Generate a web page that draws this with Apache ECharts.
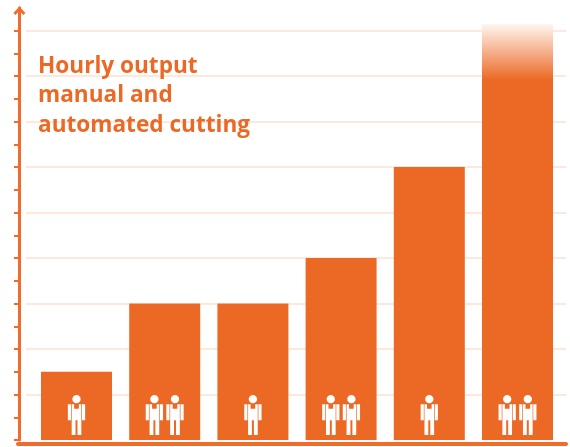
<!DOCTYPE html>
<html>
<head>
<meta charset="utf-8">
<style>html,body{margin:0;padding:0;background:#fff}#c{width:570px;height:447px}</style>
<script src="https://cdn.jsdelivr.net/npm/echarts@6/dist/echarts.min.js"></script>
</head>
<body>
<div id="c"></div>
<script>
const categories = ['A', 'B', 'C', 'D', 'E', 'F'];
const output = [3, 6, 6, 8, 12, 18.3];
const workers = [1, 2, 1, 2, 1, 2];
const iconLevel = 1.1;
const titleText = 'Hourly output\nmanual and\nautomated cutting';

const ORANGE = '#ec6925';
const AXIS = '#f26b2b';
const GRID = '#fde8dc';
const MAN = 'path://M0 28H9.5V76H0ZM42.5 28H52V76H42.5ZM11.5 28H19V41H33V28H40.5V120H29V76H23V120H11.5ZM13.5 12.5a12.5 12.5 0 1 0 25 0a12.5 12.5 0 1 0 -25 0Z';

const icons = [];
workers.forEach((n, i) => {
  for (let k = 0; k < n; k++) {
    icons.push({
      value: [categories[i], iconLevel],
      symbolOffset: [n === 1 ? 0 : (k === 0 ? -10.3 : 10.3), 0]
    });
  }
});

const chart = echarts.init(document.getElementById('c'), null, { renderer: 'canvas' });
chart.setOption({
  animation: false,
  backgroundColor: '#fff',
  title: {
    text: titleText,
    left: 33,
    top: 47,
    textStyle: {
      color: ORANGE,
      fontFamily: 'Open Sans',
      fontWeight: 'bold',
      fontSize: 22.6,
      lineHeight: 29.3
    }
  },
  grid: [
    { left: 26, right: 4, top: 30.5, height: 409.5 },
    { left: 32.4, right: 8.4, top: 7.75, height: 432.25 },
    { left: 18, right: 4, top: 30.5, height: 409.5 }
  ],
  xAxis: [
    { gridIndex: 0, type: 'category', data: categories, show: false },
    {
      gridIndex: 1, type: 'category', data: categories,
      axisLine: { show: false }, axisTick: { show: false }, axisLabel: { show: false }
    },
    {
      gridIndex: 2, type: 'category', data: categories, offset: 3.7, z: 5,
      axisLine: { show: true, onZero: false, lineStyle: { color: AXIS, width: 4 } },
      axisTick: { show: false }, axisLabel: { show: false }
    }
  ],
  yAxis: [
    {
      gridIndex: 0, type: 'value', min: 0, max: 18, interval: 2, offset: 7,
      axisLine: { show: false },
      axisLabel: { show: false },
      axisTick: { show: true, length: 5, lineStyle: { color: AXIS, width: 2 } },
      minorTick: { show: true, splitNumber: 2, length: 5, lineStyle: { color: AXIS, width: 2 } },
      splitLine: { show: true, showMinLine: false, lineStyle: { color: GRID, width: 2 } }
    },
    {
      gridIndex: 1, type: 'value', min: 0, max: 19, offset: 13, z: 5,
      axisLine: {
        show: true,
        symbol: ['none', 'path://M6 0L12 6.5L10 8.5L6 4.5L2 8.5L0 6.5Z'],
        symbolSize: [12, 9],
        symbolOffset: [0, -3],
        lineStyle: { color: AXIS, width: 3 }
      },
      axisLabel: { show: false }, axisTick: { show: false }, splitLine: { show: false }
    },
    {
      gridIndex: 2, type: 'value', min: 0, max: 18, show: false
    }
  ],
  series: [
    {
      name: 'halo', type: 'bar', xAxisIndex: 1, yAxisIndex: 1,
      data: output, barWidth: 71, barGap: '-100%', clip: false, silent: true,
      itemStyle: { color: '#fff', borderColor: '#fff', borderWidth: 4 }, z: 2
    },
    {
      name: 'output', type: 'bar', xAxisIndex: 1, yAxisIndex: 1,
      data: output.map((v, i) => i === output.length - 1
        ? {
            value: v,
            itemStyle: {
              color: new echarts.graphic.LinearGradient(0, 0, 0, 1, [
                { offset: 0, color: '#fff7f1' },
                { offset: 0.135, color: ORANGE },
                { offset: 1, color: ORANGE }
              ])
            }
          }
        : v),
      barWidth: 71, barGap: '-100%', itemStyle: { color: ORANGE }, z: 3
    },
    {
      name: 'workers', type: 'scatter', xAxisIndex: 1, yAxisIndex: 1,
      data: icons, symbol: MAN, symbolSize: [17.3, 40],
      itemStyle: { color: '#fff', opacity: 1 }, z: 4
    }
  ]
});
</script>
</body>
</html>
